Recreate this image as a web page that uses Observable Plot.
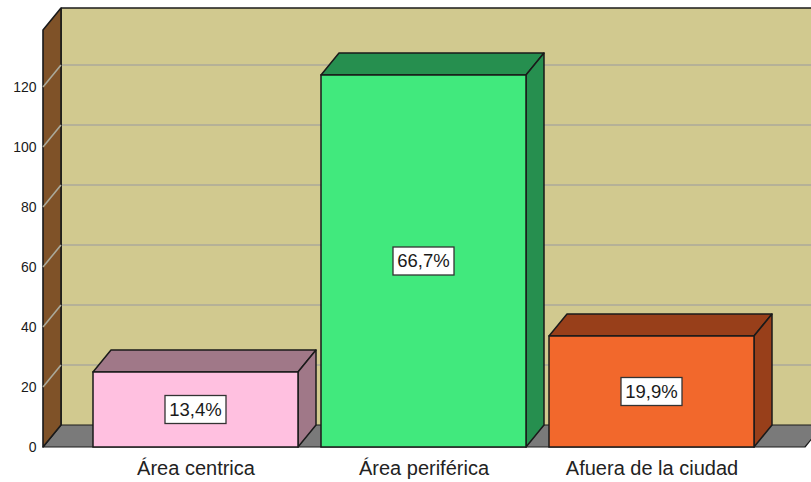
<!DOCTYPE html>
<html>
<head>
<meta charset="utf-8">
<script src="https://cdn.jsdelivr.net/npm/d3@7"></script>
<script src="https://cdn.jsdelivr.net/npm/@observablehq/plot@0.6"></script>
<style>
  html, body { margin: 0; padding: 0; background: #fff; }
  #chart svg { display: block; }
</style>
</head>
<body>
<div id="chart"></div>
<script>
// ---- data ----
const categories = ["Área centrica", "Área periférica", "Afuera de la ciudad"];
const counts = [25, 124, 37];
const percentLabels = ["13,4%", "66,7%", "19,9%"];
const yTicks = [0, 20, 40, 60, 80, 100, 120];
const yMax = 139;

// ---- style ----
const frontColors = ["#FFC0E0", "#41E97D", "#F2682C"];
const shadeColors = ["#A07888", "#268F4F", "#983F1A"];
const FONT = "'Liberation Sans', Arial, Helvetica, sans-serif";
const DX = 18, DY = -22;          // 3-D depth offset (pixels)
const PAD_INNER = 0.1, PAD_OUTER = 0.22;

const data = categories.map((c, i) => ({
  cat: c, count: counts[i], label: percentLabels[i],
  front: frontColors[i], shade: shadeColors[i]
}));

const NS = "http://www.w3.org/2000/svg";
function el(tag, attrs, parent) {
  const e = document.createElementNS(NS, tag);
  for (const k in attrs) e.setAttribute(k, attrs[k]);
  if (parent) parent.appendChild(e);
  return e;
}
const pts = a => a.map(p => p.join(",")).join(" ");

function bandwidthOf(scales, dims) {
  const x = scales.x;
  if (x && typeof x.bandwidth === "function") return x.bandwidth();
  if (x && typeof x.bandwidth === "number") return x.bandwidth;
  if (scales.scales && scales.scales.x && typeof scales.scales.x.bandwidth === "number") return scales.scales.x.bandwidth;
  const n = categories.length;
  const step = (dims.width - dims.marginLeft - dims.marginRight) / (n - PAD_INNER + 2 * PAD_OUTER);
  return step * (1 - PAD_INNER);
}

// walls, floor and grid
function walls(index, scales, values, dims) {
  const y = scales.y;
  const g = el("g", {});
  const x0 = dims.marginLeft, x1 = dims.width - dims.marginRight;
  const yb = y(0), yt = y(yMax);
  // back wall
  el("rect", {x: x0 + DX, y: yt + DY, width: dims.width, height: yb - yt, fill: "#D1C98F"}, g);
  // grid lines
  for (const v of yTicks) {
    if (v === 0) continue;
    const yy = y(v);
    el("line", {x1: x0 + DX, y1: yy + DY, x2: dims.width + 40, y2: yy + DY, stroke: "#ABA99A", "stroke-width": 1.6}, g);
  }
  // back wall edges
  el("line", {x1: x0 + DX, y1: yt + DY, x2: dims.width + 40, y2: yt + DY, stroke: "#1a1a1a", "stroke-width": 1.6}, g);
  el("line", {x1: x0 + DX, y1: yt + DY, x2: x0 + DX, y2: yb + DY, stroke: "#1a1a1a", "stroke-width": 1.6}, g);
  // floor
  el("polygon", {points: pts([[x0, yb], [x1, yb], [x1 + DX, yb + DY], [x0 + DX, yb + DY]]),
    fill: "#7A7A7A", stroke: "#1a1a1a", "stroke-width": 1.2, "stroke-linejoin": "round"}, g);
  // side wall
  el("polygon", {points: pts([[x0, yb], [x0, yt], [x0 + DX, yt + DY], [x0 + DX, yb + DY]]),
    fill: "#7F5228", stroke: "#1a1a1a", "stroke-width": 1.6, "stroke-linejoin": "round"}, g);
  for (const v of yTicks) {
    if (v === 0) continue;
    const yy = y(v);
    el("line", {x1: x0, y1: yy, x2: x0 + DX, y2: yy + DY, stroke: "#ABA99A", "stroke-width": 1.6}, g);
  }
  return g;
}

// top and side faces of the bars
function barDepth(index, scales, values, dims) {
  const x = scales.x, y = scales.y;
  const bw = bandwidthOf(scales, dims);
  const g = el("g", {});
  const y0 = y(0);
  for (const d of data) {
    const xa = x(d.cat), xb = xa + bw, yv = y(d.count);
    el("polygon", {points: pts([[xa, yv], [xb, yv], [xb + DX, yv + DY], [xa + DX, yv + DY]]),
      fill: d.shade, stroke: "#1a1a1a", "stroke-width": 1.5, "stroke-linejoin": "round"}, g);
    el("polygon", {points: pts([[xb, yv], [xb + DX, yv + DY], [xb + DX, y0 + DY], [xb, y0]]),
      fill: d.shade, stroke: "#1a1a1a", "stroke-width": 1.5, "stroke-linejoin": "round"}, g);
  }
  return g;
}

// percentage boxes
function labelBoxes(index, scales, values, dims) {
  const x = scales.x, y = scales.y;
  const bw = bandwidthOf(scales, dims);
  const g = el("g", {});
  for (const d of data) {
    const cx = x(d.cat) + bw / 2, cy = (y(0) + y(d.count)) / 2;
    const w = 61, h = 28;
    el("rect", {x: cx - w / 2, y: cy - h / 2, width: w, height: h, fill: "#fff", stroke: "#333", "stroke-width": 1.3}, g);
    const t = el("text", {x: cx, y: cy, "text-anchor": "middle", dy: "0.35em",
      "font-size": 18.5, "font-family": FONT, fill: "#1a1a1a"}, g);
    t.textContent = d.label;
  }
  return g;
}

const chart = Plot.plot({
  width: 811,
  height: 482,
  marginTop: 30,
  marginBottom: 35,
  marginLeft: 43,
  marginRight: 6,
  style: {background: "#fff", fontFamily: FONT, fontSize: "14px", color: "#1a1a1a"},
  x: {domain: categories, paddingInner: PAD_INNER, paddingOuter: PAD_OUTER, axis: null},
  y: {domain: [0, yMax], axis: null},
  marks: [
    walls,
    barDepth,
    Plot.barY(data, {x: "cat", y: "count", fill: "front", stroke: "#1a1a1a", strokeWidth: 1.5, inset: 0}),
    labelBoxes,
    Plot.text(yTicks, {y: d => d, frameAnchor: "left", dx: -7, textAnchor: "end", fontSize: 14, fill: "#1a1a1a"}),
    Plot.text(data, {x: "cat", y: () => 0, dy: 21, text: "cat", fontSize: 20, fill: "#222", lineAnchor: "middle"})
  ]
});
document.getElementById("chart").appendChild(chart);
</script>
</body>
</html>
